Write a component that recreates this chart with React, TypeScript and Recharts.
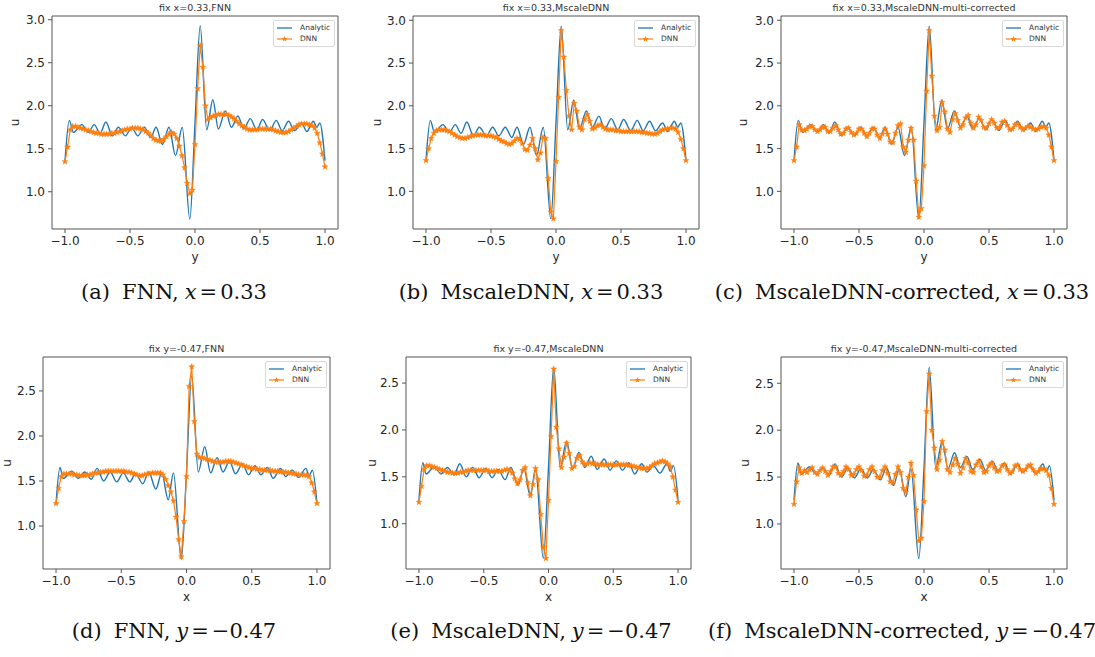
import React from "react";
import { LineChart, Line, XAxis, YAxis, ReferenceArea, Legend } from "recharts";

// Colours (matplotlib defaults)
const BLUE = "#1f77b4";
const ORANGE = "#ff7f0e";
const FRAME = "#555555";
const TEXT = "#262626";

// Shared sample grid for the DNN curves
const gridX = [
  -1, -0.98, -0.96, -0.94, -0.92, -0.9, -0.88, -0.86, -0.84, -0.82,
  -0.8, -0.78, -0.76, -0.74, -0.72, -0.7, -0.68, -0.66, -0.64, -0.62,
  -0.6, -0.58, -0.56, -0.54, -0.52, -0.5, -0.48, -0.46, -0.44, -0.42,
  -0.4, -0.38, -0.36, -0.34, -0.32, -0.3, -0.28, -0.26, -0.24, -0.22,
  -0.2, -0.18, -0.16, -0.14, -0.12, -0.1, -0.08, -0.06, -0.04, -0.02,
  0, 0.02, 0.04, 0.06, 0.08, 0.1, 0.12, 0.14, 0.16, 0.18,
  0.2, 0.22, 0.24, 0.26, 0.28, 0.3, 0.32, 0.34, 0.36, 0.38,
  0.4, 0.42, 0.44, 0.46, 0.48, 0.5, 0.52, 0.54, 0.56, 0.58,
  0.6, 0.62, 0.64, 0.66, 0.68, 0.7, 0.72, 0.74, 0.76, 0.78,
  0.8, 0.82, 0.84, 0.86, 0.88, 0.9, 0.92, 0.94, 0.96, 0.98,
  1,
];

// Analytic solution, fix x=0.33 (peaks / troughs)
const analyticTopX = [
  -1, -0.967, -0.935, -0.87, -0.82, -0.775, -0.73, -0.686, -0.635, -0.59,
  -0.535, -0.487, -0.44, -0.39, -0.34, -0.3, -0.25, -0.2, -0.15, -0.098,
  -0.04, 0, 0.04, 0.09, 0.137, 0.18, 0.234, 0.28, 0.33, 0.375,
  0.425, 0.475, 0.52, 0.575, 0.625, 0.67, 0.72, 0.765, 0.82, 0.86,
  0.91, 0.937, 0.96, 1,
];
const analyticTopU = [
  1.36, 1.83, 1.69, 1.78, 1.69, 1.78, 1.68, 1.81, 1.65, 1.75,
  1.65, 1.75, 1.65, 1.75, 1.63, 1.75, 1.55, 1.75, 1.42, 1.75,
  0.68, 1.8, 2.93, 1.72, 2.07, 1.73, 1.94, 1.75, 1.88, 1.73,
  1.85, 1.72, 1.84, 1.71, 1.83, 1.71, 1.82, 1.71, 1.8, 1.7,
  1.82, 1.75, 1.8, 1.36,
];

// Analytic solution, fix y=-0.47
const analyticBottomX = [
  -1, -0.97, -0.945, -0.88, -0.83, -0.78, -0.73, -0.685, -0.635, -0.585,
  -0.535, -0.485, -0.435, -0.39, -0.335, -0.29, -0.235, -0.19, -0.14, -0.1,
  -0.04, 0, 0.04, 0.09, 0.14, 0.185, 0.235, 0.28, 0.33, 0.375,
  0.43, 0.475, 0.525, 0.57, 0.62, 0.665, 0.72, 0.76, 0.81, 0.86,
  0.915, 0.94, 0.965, 1,
];
const analyticBottomU = [
  1.25, 1.65, 1.53, 1.61, 1.53, 1.6, 1.52, 1.64, 1.5, 1.6,
  1.49, 1.59, 1.49, 1.58, 1.47, 1.6, 1.41, 1.59, 1.29, 1.59,
  0.63, 1.6, 2.67, 1.6, 1.88, 1.59, 1.76, 1.6, 1.72, 1.58,
  1.69, 1.57, 1.67, 1.57, 1.65, 1.53, 1.64, 1.55, 1.62, 1.54,
  1.64, 1.56, 1.62, 1.25,
];

// DNN predictions on gridX
const fnnTopU = [
  1.35, 1.52, 1.72, 1.76, 1.76, 1.75, 1.74, 1.73, 1.72, 1.71,
  1.7, 1.69, 1.68, 1.68, 1.67, 1.67, 1.67, 1.67, 1.68, 1.68,
  1.69, 1.7, 1.71, 1.72, 1.73, 1.73, 1.74, 1.74, 1.74, 1.73,
  1.72, 1.7, 1.68, 1.65, 1.62, 1.6, 1.59, 1.59, 1.61, 1.64,
  1.67, 1.69, 1.67, 1.62, 1.53, 1.42, 1.28, 1.1, 0.98, 1.02,
  1.55, 2.2, 2.7, 2.45, 2.0, 1.84, 1.86, 1.88, 1.89, 1.9,
  1.9, 1.9, 1.9, 1.89, 1.87, 1.85, 1.82, 1.79, 1.77, 1.75,
  1.73, 1.72, 1.72, 1.72, 1.72, 1.73, 1.73, 1.73, 1.73, 1.73,
  1.72, 1.71, 1.7, 1.69, 1.69, 1.69, 1.7, 1.72, 1.74, 1.76,
  1.78, 1.79, 1.79, 1.79, 1.78, 1.77, 1.74, 1.68, 1.57, 1.44,
  1.29,
];
const mscaleTopU = [
  1.36, 1.5, 1.62, 1.68, 1.71, 1.72, 1.72, 1.72, 1.71, 1.7,
  1.68, 1.66, 1.64, 1.63, 1.62, 1.62, 1.63, 1.64, 1.65, 1.66,
  1.66, 1.66, 1.66, 1.65, 1.65, 1.65, 1.64, 1.63, 1.61, 1.59,
  1.58, 1.56, 1.55, 1.56, 1.59, 1.62, 1.61, 1.56, 1.49, 1.48,
  1.54, 1.62, 1.5, 1.37, 1.45, 1.63, 1.62, 1.15, 0.76, 0.68,
  1.35, 2.1, 2.88, 2.57, 2.18, 1.88, 1.72, 2.03, 1.94, 1.75,
  1.72, 1.84, 1.9, 1.82, 1.73, 1.74, 1.77, 1.78, 1.75, 1.73,
  1.72, 1.72, 1.72, 1.71, 1.71, 1.7, 1.7, 1.7, 1.7, 1.7,
  1.7, 1.7, 1.7, 1.69, 1.69, 1.68, 1.68, 1.67, 1.67, 1.68,
  1.7, 1.72, 1.73, 1.73, 1.74, 1.74, 1.73, 1.69, 1.61, 1.5,
  1.36,
];
const correctedTopU = [
  1.36, 1.52, 1.78, 1.72, 1.71, 1.73, 1.76, 1.76, 1.72, 1.7,
  1.72, 1.75, 1.75, 1.7, 1.7, 1.74, 1.77, 1.72, 1.67, 1.68,
  1.73, 1.74, 1.69, 1.66, 1.68, 1.73, 1.73, 1.68, 1.64, 1.68,
  1.73, 1.73, 1.66, 1.62, 1.67, 1.73, 1.67, 1.58, 1.57, 1.68,
  1.77, 1.79, 1.52, 1.46, 1.6, 1.74, 1.6, 1.12, 0.7, 0.8,
  1.3, 2.17, 2.88, 2.35, 1.88, 1.71, 1.75, 2.04, 1.93, 1.73,
  1.69, 1.84, 1.91, 1.83, 1.74, 1.78, 1.86, 1.89, 1.8, 1.74,
  1.78, 1.87, 1.83, 1.75, 1.74, 1.79, 1.84, 1.8, 1.74, 1.75,
  1.81, 1.82, 1.77, 1.72, 1.73, 1.78, 1.79, 1.75, 1.72, 1.74,
  1.76, 1.75, 1.73, 1.72, 1.73, 1.75, 1.76, 1.74, 1.66, 1.52,
  1.36,
];
const fnnBottomU = [
  1.25, 1.42, 1.55, 1.58, 1.58, 1.58, 1.58, 1.57, 1.57, 1.56,
  1.56, 1.56, 1.57, 1.57, 1.58, 1.59, 1.59, 1.6, 1.6, 1.61,
  1.61, 1.61, 1.61, 1.61, 1.61, 1.61, 1.61, 1.6, 1.6, 1.59,
  1.58, 1.57, 1.56, 1.56, 1.57, 1.58, 1.58, 1.59, 1.59, 1.59,
  1.59, 1.57, 1.52, 1.45, 1.38, 1.28, 1.1, 0.85, 0.66, 1.05,
  1.55, 2.55, 2.77, 2.16, 1.8, 1.76, 1.76, 1.75, 1.74, 1.73,
  1.72, 1.71, 1.71, 1.71, 1.71, 1.72, 1.72, 1.72, 1.71, 1.7,
  1.69, 1.68, 1.67, 1.66, 1.65, 1.64, 1.64, 1.63, 1.63, 1.62,
  1.62, 1.62, 1.62, 1.61, 1.61, 1.61, 1.6, 1.6, 1.6, 1.59,
  1.59, 1.58, 1.58, 1.57, 1.57, 1.57, 1.56, 1.55, 1.48, 1.38,
  1.25,
];
const mscaleBottomU = [
  1.23, 1.4, 1.58, 1.62, 1.62, 1.61, 1.6, 1.59, 1.58, 1.57,
  1.56, 1.55, 1.55, 1.54, 1.54, 1.54, 1.55, 1.55, 1.56, 1.57,
  1.57, 1.57, 1.57, 1.57, 1.57, 1.57, 1.57, 1.56, 1.56, 1.56,
  1.56, 1.56, 1.56, 1.57, 1.58, 1.57, 1.54, 1.48, 1.43, 1.47,
  1.57, 1.6, 1.44, 1.3, 1.42, 1.59, 1.47, 1.1, 0.75, 0.63,
  1.25, 1.93, 2.65, 2.03, 1.8, 1.6, 1.71, 1.86, 1.75, 1.59,
  1.61, 1.7, 1.73, 1.66, 1.63, 1.64, 1.65, 1.64, 1.64, 1.63,
  1.63, 1.63, 1.63, 1.63, 1.63, 1.63, 1.63, 1.63, 1.63, 1.63,
  1.63, 1.62, 1.62, 1.61, 1.6, 1.6, 1.59, 1.59, 1.59, 1.6,
  1.62, 1.64, 1.65, 1.66, 1.67, 1.66, 1.64, 1.61, 1.5, 1.36,
  1.23,
];
const correctedBottomU = [
  1.21, 1.45, 1.6, 1.54, 1.57, 1.55, 1.58, 1.6, 1.55, 1.53,
  1.57, 1.6, 1.56, 1.52, 1.56, 1.61, 1.61, 1.54, 1.52, 1.56,
  1.61, 1.58, 1.52, 1.53, 1.58, 1.61, 1.57, 1.51, 1.52, 1.58,
  1.61, 1.56, 1.5, 1.5, 1.57, 1.61, 1.54, 1.45, 1.44, 1.53,
  1.61, 1.55, 1.38, 1.34, 1.5, 1.65, 1.52, 1.15, 0.82, 0.85,
  1.24, 2.2, 2.6, 2.0, 1.81, 1.58, 1.68, 1.88, 1.79, 1.58,
  1.55, 1.63, 1.7, 1.64, 1.54, 1.6, 1.7, 1.65, 1.56, 1.55,
  1.63, 1.67, 1.61, 1.55, 1.56, 1.62, 1.65, 1.6, 1.56, 1.57,
  1.62, 1.63, 1.58, 1.54, 1.56, 1.62, 1.63, 1.58, 1.56, 1.58,
  1.62, 1.63, 1.58, 1.54, 1.56, 1.59, 1.59, 1.57, 1.52, 1.38,
  1.21,
];

const xTicks = [-1, -0.5, 0, 0.5, 1];
const topYTicks = [1, 1.5, 2, 2.5, 3];
const bottomYTicks = [1, 1.5, 2, 2.5];

const toRows = (xs: number[], us: number[]) => xs.map((x, i) => ({ x, u: us[i] }));

const fmtTick = (v: number) => v.toFixed(1).replace("-", "\u2212");

// small filled star, like matplotlib's "*" marker
function starPoints(cx: number, cy: number, outer: number, inner: number) {
  const pts: string[] = [];
  for (let k = 0; k < 10; k++) {
    const r = k % 2 === 0 ? outer : inner;
    const a = -Math.PI / 2 + (k * Math.PI) / 5;
    pts.push(`${(cx + r * Math.cos(a)).toFixed(2)},${(cy + r * Math.sin(a)).toFixed(2)}`);
  }
  return pts.join(" ");
}

function StarDot(props: any) {
  const { cx, cy } = props;
  if (cx == null || cy == null) return null;
  return <polygon points={starPoints(cx, cy, 3.1, 1.3)} fill={ORANGE} stroke={ORANGE} strokeWidth={0.4} />;
}

// rotated "u", centred on the plot height
function makeYLabel(offset: number) {
  return (props: any) => {
    const vb = props.viewBox || {};
    const x = (vb.x ?? 0) + offset;
    const y = (vb.y ?? 0) + (vb.height ?? 0) / 2;
    return (
      <text
        x={x}
        y={y}
        transform={`rotate(-90 ${x} ${y})`}
        textAnchor="middle"
        dominantBaseline="central"
        fill={TEXT}
        fontSize={12}
        fontFamily="DejaVu Sans"
      >
        u
      </text>
    );
  };
}

const renderLegend = () => (
  <div
    style={{
      width: 62,
      height: 27,
      boxSizing: "border-box",
      border: "1px solid #d9d9d9",
      borderRadius: 2,
      background: "rgba(255,255,255,0.85)",
      fontFamily: "DejaVu Sans",
      fontSize: 7.5,
      color: "#333",
      padding: "1px 0 0 2px",
    }}
  >
    <div style={{ display: "flex", alignItems: "center", height: 11 }}>
      <svg width={18} height={8}>
        <line x1={1} y1={4} x2={16} y2={4} stroke={BLUE} strokeWidth={1.3} />
      </svg>
      <span style={{ marginLeft: 6 }}>Analytic</span>
    </div>
    <div style={{ display: "flex", alignItems: "center", height: 11 }}>
      <svg width={18} height={8}>
        <line x1={1} y1={4} x2={16} y2={4} stroke={ORANGE} strokeWidth={1.2} />
        <polygon points={starPoints(8.5, 4, 3.1, 1.3)} fill={ORANGE} />
      </svg>
      <span style={{ marginLeft: 6 }}>DNN</span>
    </div>
  </div>
);

interface PanelSpec {
  plotLeft: number;
  plotTop: number;
  plotW: number;
  plotH: number;
  yDomain: [number, number];
  yTicks: number[];
  title: string;
  xLabel: string;
  labelOffset: number;
  analyticX: number[];
  analyticU: number[];
  dnnU: number[];
}

const panels: PanelSpec[] = [
  { plotLeft: 52, plotTop: 16, plotW: 286, plotH: 213, yDomain: [0.567, 3.043], yTicks: topYTicks, title: "fix x=0.33,FNN", xLabel: "y", labelOffset: 8, analyticX: analyticTopX, analyticU: analyticTopU, dnnU: fnnTopU },
  { plotLeft: 413, plotTop: 16, plotW: 286, plotH: 213, yDomain: [0.56, 3.05], yTicks: topYTicks, title: "fix x=0.33,MscaleDNN", xLabel: "y", labelOffset: 9, analyticX: analyticTopX, analyticU: analyticTopU, dnnU: mscaleTopU },
  { plotLeft: 781, plotTop: 16, plotW: 286, plotH: 213, yDomain: [0.56, 3.05], yTicks: topYTicks, title: "fix x=0.33,MscaleDNN-multi-corrected", xLabel: "y", labelOffset: 7, analyticX: analyticTopX, analyticU: analyticTopU, dnnU: correctedTopU },
  { plotLeft: 43, plotTop: 357, plotW: 287, plotH: 212, yDomain: [0.523, 2.877], yTicks: bottomYTicks, title: "fix y=-0.47,FNN", xLabel: "x", labelOffset: 9, analyticX: analyticBottomX, analyticU: analyticBottomU, dnnU: fnnBottomU },
  { plotLeft: 406, plotTop: 357, plotW: 285, plotH: 212, yDomain: [0.517, 2.778], yTicks: bottomYTicks, title: "fix y=-0.47,MscaleDNN", xLabel: "x", labelOffset: 11, analyticX: analyticBottomX, analyticU: analyticBottomU, dnnU: mscaleBottomU },
  { plotLeft: 781, plotTop: 357, plotW: 286, plotH: 212, yDomain: [0.52, 2.78], yTicks: bottomYTicks, title: "fix y=-0.47,MscaleDNN-multi-corrected", xLabel: "x", labelOffset: 9, analyticX: analyticBottomX, analyticU: analyticBottomU, dnnU: correctedBottomU },
];

const captions = [
  { cx: 174, top: 280, tag: "(a)", name: "FNN", v: "x", val: "0.33" },
  { cx: 531, top: 280, tag: "(b)", name: "MscaleDNN", v: "x", val: "0.33" },
  { cx: 902, top: 280, tag: "(c)", name: "MscaleDNN-corrected", v: "x", val: "0.33" },
  { cx: 174, top: 619, tag: "(d)", name: "FNN", v: "y", val: "\u22120.47" },
  { cx: 531, top: 619, tag: "(e)", name: "MscaleDNN", v: "y", val: "\u22120.47" },
  { cx: 902, top: 619, tag: "(f)", name: "MscaleDNN-corrected", v: "y", val: "\u22120.47" },
];

const tickStyle = { fill: TEXT, fontSize: 12, fontFamily: "DejaVu Sans" };

function Panel({ p }: { p: PanelSpec }) {
  const analytic = toRows(p.analyticX, p.analyticU);
  const dnn = toRows(gridX, p.dnnU);
  const chartW = p.plotW + 50;
  const chartH = p.plotH + 60;
  return (
    <>
      <div
        style={{
          position: "absolute",
          left: p.plotLeft,
          top: p.plotTop - 13,
          width: p.plotW,
          textAlign: "center",
          fontFamily: "DejaVu Sans",
          fontSize: 9.5,
          lineHeight: "10px",
          color: "#333",
          whiteSpace: "nowrap",
        }}
      >
        {p.title}
      </div>
      <div style={{ position: "absolute", left: p.plotLeft - 45, top: p.plotTop - 15 }}>
        <LineChart width={chartW} height={chartH} margin={{ top: 15, right: 5, bottom: 0, left: 0 }}>
          <XAxis
            type="number"
            dataKey="x"
            domain={[-1.1, 1.1]}
            ticks={xTicks}
            allowDataOverflow
            height={45}
            axisLine={false}
            tickSize={4}
            tickMargin={3}
            tickLine={{ stroke: FRAME }}
            tick={tickStyle}
            tickFormatter={fmtTick}
            label={{ value: p.xLabel, position: "insideTop", offset: 23, fill: TEXT, fontSize: 12, fontFamily: "DejaVu Sans" }}
          />
          <YAxis
            type="number"
            domain={p.yDomain}
            ticks={p.yTicks}
            allowDataOverflow
            width={45}
            axisLine={false}
            tickSize={4}
            tickMargin={3}
            tickLine={{ stroke: FRAME }}
            tick={tickStyle}
            tickFormatter={fmtTick}
            label={makeYLabel(p.labelOffset)}
          />
          <ReferenceArea
            x1={-1.1}
            x2={1.1}
            y1={p.yDomain[0]}
            y2={p.yDomain[1]}
            fill="none"
            stroke={FRAME}
            strokeWidth={1}
            ifOverflow="visible"
          />
          <Line
            data={analytic}
            dataKey="u"
            name="Analytic"
            type="monotone"
            stroke={BLUE}
            strokeWidth={1.4}
            dot={false}
            isAnimationActive={false}
          />
          <Line
            data={dnn}
            dataKey="u"
            name="DNN"
            type="linear"
            stroke={ORANGE}
            strokeWidth={1.2}
            dot={<StarDot />}
            isAnimationActive={false}
          />
          <Legend
            layout="vertical"
            align="center"
            verticalAlign="middle"
            wrapperStyle={{ top: 19, right: 8, width: 62 }}
            content={renderLegend}
          />
        </LineChart>
      </div>
    </>
  );
}

export default function App() {
  return (
    <div
      style={{
        position: "absolute",
        left: 0,
        top: 0,
        width: 1095,
        height: 657,
        background: "#ffffff",
        overflow: "hidden",
      }}
    >
      {panels.map((p, i) => (
        <Panel key={i} p={p} />
      ))}
      {captions.map((c, i) => (
        <div
          key={i}
          style={{
            position: "absolute",
            left: c.cx - 220,
            top: c.top,
            width: 440,
            textAlign: "center",
            fontFamily: "DejaVu Serif",
            fontSize: 21,
            lineHeight: "24px",
            color: "#111",
            whiteSpace: "nowrap",
          }}
        >
          {c.tag}
          <span style={{ marginLeft: 12 }}>{c.name},</span>
          <i style={{ marginLeft: 6 }}>{c.v}</i>
          <span style={{ margin: "0 3px" }}>=</span>
          {c.val}
        </div>
      ))}
    </div>
  );
}
